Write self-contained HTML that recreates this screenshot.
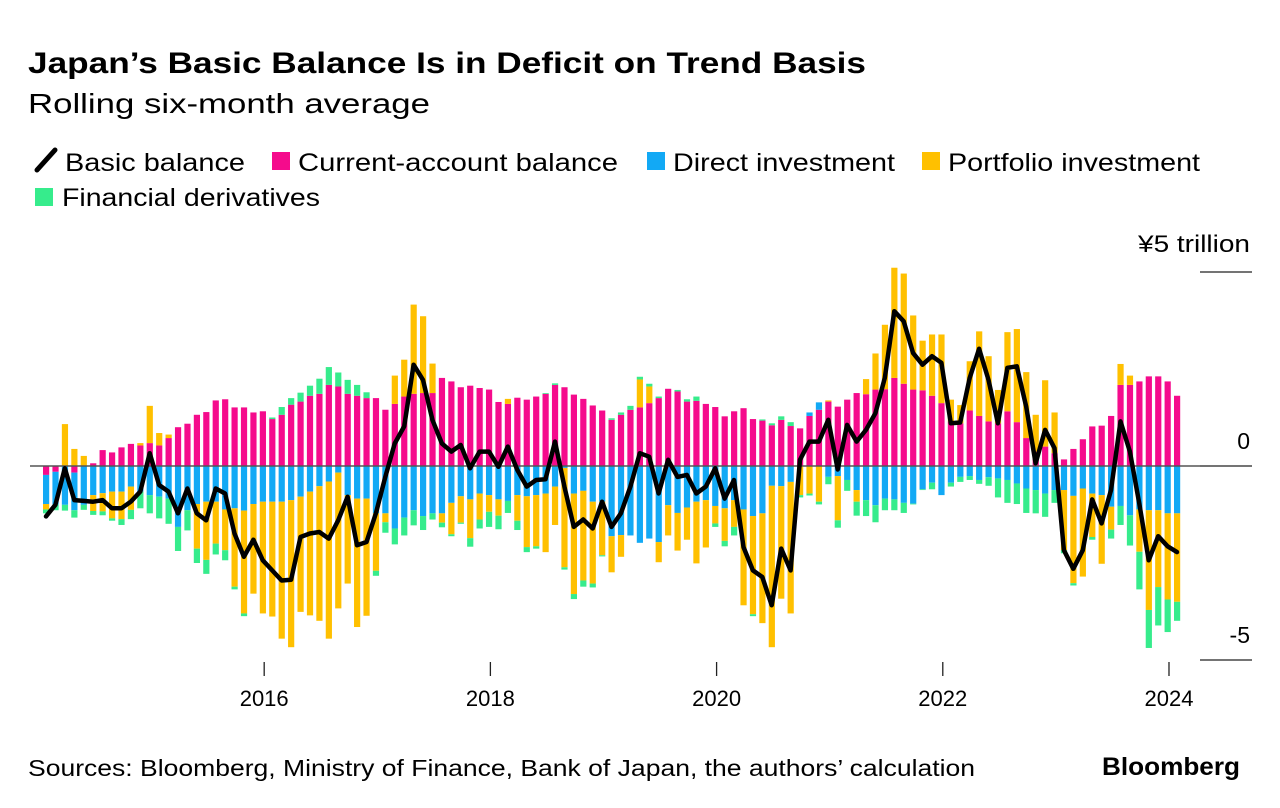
<!DOCTYPE html>
<html><head><meta charset="utf-8">
<style>
html,body{margin:0;padding:0;background:#fff;}
svg{display:block;font-family:"Liberation Sans",Arial,sans-serif;}
</style></head>
<body>
<svg id="chart" width="1280" height="808" viewBox="0 0 1280 808" xmlns="http://www.w3.org/2000/svg">
<text x="28" y="73" font-size="30" font-weight="bold" fill="#000" textLength="838" lengthAdjust="spacingAndGlyphs">Japan’s Basic Balance Is in Deficit on Trend Basis</text>
<text x="28" y="113" font-size="28" fill="#000" textLength="402" lengthAdjust="spacingAndGlyphs">Rolling six-month average</text>
<g>
<g><line x1="37" y1="170" x2="55" y2="150" stroke="#000" stroke-width="5" stroke-linecap="round"/><text x="65" y="171" font-size="25" textLength="180" lengthAdjust="spacingAndGlyphs">Basic balance</text></g>
<g><rect x="272" y="152" width="18" height="18" fill="#f50b8c"/><text x="298" y="171" font-size="25" textLength="320" lengthAdjust="spacingAndGlyphs">Current-account balance</text></g>
<g><rect x="647" y="152" width="18" height="18" fill="#12a9f5"/><text x="673" y="171" font-size="25" textLength="222" lengthAdjust="spacingAndGlyphs">Direct investment</text></g>
<g><rect x="922" y="152" width="18" height="18" fill="#ffc000"/><text x="948" y="171" font-size="25" textLength="252" lengthAdjust="spacingAndGlyphs">Portfolio investment</text></g>
<g><rect x="35" y="188" width="18" height="18" fill="#36ec8c"/><text x="62" y="206" font-size="25" textLength="258" lengthAdjust="spacingAndGlyphs">Financial derivatives</text></g>
</g>
<g id="plot"></g>
<text x="1250" y="252" font-size="24" text-anchor="end" textLength="112" lengthAdjust="spacingAndGlyphs">¥5 trillion</text>
<text x="28" y="776" font-size="23" textLength="947" lengthAdjust="spacingAndGlyphs">Sources: Bloomberg, Ministry of Finance, Bank of Japan, the authors’ calculation</text>
<text x="1240" y="775" font-size="25" font-weight="bold" text-anchor="end" textLength="138" lengthAdjust="spacingAndGlyphs">Bloomberg</text>
</svg>
<script>
const caValues=[-0.23,-0.15,0,-0.17,0,0.07,0.41,0.35,0.48,0.57,0.53,0.59,0.53,0.72,1.0,1.09,1.32,1.39,1.69,1.72,1.51,1.51,1.38,1.41,1.21,1.32,1.58,1.66,1.81,1.86,2.09,2.05,1.86,1.81,1.75,1.75,1.45,1.6,1.79,1.86,1.88,1.88,2.27,2.18,2.03,2.07,2.01,1.97,1.65,1.6,1.76,1.71,1.79,1.86,2.09,2.03,1.84,1.73,1.56,1.43,1.19,1.32,1.45,1.51,1.62,1.75,1.99,1.92,1.66,1.68,1.6,1.52,1.28,1.41,1.49,1.21,1.17,1.05,1.19,1.03,0.97,1.29,1.45,1.66,1.53,1.71,1.88,1.85,1.97,1.98,2.27,2.12,1.97,1.95,1.81,1.62,1.15,1.1,1.43,1.29,1.15,1.1,1.41,1.13,0.72,0.37,0.5,0.33,0.17,0.44,0.69,1.02,1.04,1.29,2.09,2.09,2.18,2.31,2.31,2.18,1.81];
const diValues=[-0.75,-0.84,-1.0,-0.97,-1.0,-0.75,-0.7,-0.66,-0.66,-0.53,-0.66,-0.75,-0.79,-0.84,-1.57,-1.14,-0.98,-0.92,-0.92,-1.12,-1.09,-1.15,-0.98,-0.92,-0.92,-0.92,-0.88,-0.79,-0.66,-0.52,-0.4,-0.17,-0.75,-0.84,-0.84,-1.22,-1.22,-1.61,-1.33,-1.14,-1.29,-1.22,-1.22,-0.95,-0.78,-0.86,-0.71,-0.75,-0.86,-0.9,-0.75,-0.78,-0.75,-0.71,-0.53,-0.05,-0.71,-0.64,-0.92,-0.92,-1.81,-1.78,-1.79,-1.98,-1.87,-1.96,-1.01,-1.21,-1.07,-0.92,-0.88,-1.03,-1.09,-0.88,-1.12,-1.29,-1.22,-0.51,-0.52,-0.41,0,0.09,0.19,-0.28,-0.26,-0.36,-0.62,-0.88,-1.01,-0.84,-0.86,-0.95,-0.97,-0.6,-0.43,-0.75,-0.43,-0.28,-0.26,-0.36,-0.29,-0.32,-0.36,-0.45,-0.58,-0.62,-0.71,-0.62,-0.62,-0.77,-0.58,-0.71,-0.75,-1.05,-1.03,-1.27,-1.12,-1.14,-1.14,-1.22,-1.22];
const piValues=[-0.14,0,1.08,0.44,0.26,-0.41,-0.47,-0.69,-0.71,-0.6,0.06,0.96,0.32,0.09,0,0,-1.15,-1.5,-1.08,-1.05,-2.02,-2.65,-2.31,-2.88,-2.96,-3.53,-3.79,-2.97,-3.19,-3.47,-4.05,-3.5,-2.28,-3.31,-3.02,-1.48,-0.23,0.73,0.95,2.3,1.98,0.76,-0.24,-0.81,-0.68,-1.0,-0.67,-0.43,-0.42,0.13,-0.66,-1.31,-1.32,-1.51,-0.99,-2.56,-2.59,-2.31,-2.11,-1.38,-0.93,-0.56,0,0.72,0.43,-0.52,-0.78,-0.97,-0.83,-1.59,-1.22,-0.45,-0.84,-0.69,-2.47,-2.53,-2.83,-4.16,-2.9,-3.39,-0.75,-0.71,-0.92,0.03,-1.14,0,-0.3,0.39,0.93,1.66,2.84,2.84,1.91,1.28,1.58,1.77,0.56,0.47,1.27,2.18,1.68,0.86,2.04,2.4,1.7,0.95,1.71,1.05,-1.55,-2.25,-2.27,-1.12,-1.77,-0.59,0.54,0.24,-1.09,-2.57,-1.98,-2.22,-2.28];
const fdValues=[-0.1,-0.15,-0.15,-0.19,-0.13,-0.1,-0.1,-0.06,-0.15,-0.24,-0.43,-0.47,-0.56,-0.65,-0.62,-0.52,-0.37,-0.36,-0.28,-0.26,-0.07,-0.07,0,0,0.04,0.2,0.17,0.23,0.26,0.39,0.46,0.36,0.36,0.28,0.15,-0.13,-0.27,-0.41,-0.46,-0.39,-0.36,-0.16,-0.12,-0.05,-0.03,-0.22,-0.23,-0.39,-0.35,-0.31,-0.24,-0.13,-0.06,0.02,0.04,-0.06,-0.13,-0.16,-0.1,-0.03,0.04,0.06,0.1,0.07,0.07,0.04,0,0.04,0.06,0.11,0,-0.09,-0.14,-0.22,0,-0.05,0.03,0.05,0.09,0.1,-0.06,-0.05,-0.07,-0.19,-0.19,-0.28,-0.36,-0.41,-0.44,-0.3,-0.28,-0.26,-0.02,-0.02,-0.17,0,-0.1,-0.13,-0.1,-0.1,-0.22,-0.49,-0.59,-0.53,-0.63,-0.6,-0.6,-0.33,-0.08,-0.06,0,-0.07,0,-0.23,-0.49,-0.78,-0.97,-0.98,-0.99,-0.84,-0.49];
const basicBalance=[-1.3,-1.0,-0.06,-0.88,-0.9,-0.92,-0.88,-1.09,-1.09,-0.92,-0.66,0.33,-0.49,-0.66,-1.22,-0.58,-1.22,-1.4,-0.58,-0.71,-1.74,-2.34,-1.9,-2.43,-2.69,-2.95,-2.93,-1.83,-1.74,-1.7,-1.87,-1.4,-0.79,-2.04,-1.96,-1.22,-0.28,0.58,1.02,2.61,2.22,1.19,0.58,0.37,0.54,-0.06,0.37,0.37,-0.02,0.5,-0.1,-0.53,-0.36,-0.34,0.63,-0.53,-1.57,-1.38,-1.61,-0.92,-1.57,-1.22,-0.53,0.33,0.24,-0.71,0.16,-0.28,-0.23,-0.71,-0.53,-0.06,-0.84,-0.36,-2.09,-2.69,-2.86,-3.59,-2.13,-2.69,0.16,0.63,0.63,1.19,-0.09,1.06,0.63,0.93,1.36,2.27,3.99,3.73,2.91,2.61,2.83,2.66,1.1,1.12,2.27,3.02,2.22,1.1,2.53,2.57,1.53,0.07,0.93,0.46,-2.17,-2.65,-2.17,-0.86,-1.48,-0.62,1.15,0.37,-0.97,-2.43,-1.81,-2.07,-2.22];
const yearTicks=[2016,2018,2020,2022,2024];
const yTickValues=[5,0,-5];
const yTickLabels=["","0","-5"];

const NS="http://www.w3.org/2000/svg";
const plot=document.getElementById('plot');
const step=9.425, x0=46;
function xScale(i){return x0+i*step;}
function yearX(y){return xScale((y-2014)*12-0.85);}
function yScale(v){return 466-v*38.8;}
function mk(tag,attrs){const e=document.createElementNS(NS,tag);for(const k in attrs)e.setAttribute(k,attrs[k]);plot.appendChild(e);return e;}

// y gridlines / ticks
yTickValues.forEach((v,k)=>{
  const l=mk('line',{x1:1200,x2:1252,y1:yScale(v),y2:yScale(v),stroke:'#222','stroke-width':1.3});
  
  
  if(yTickLabels[k]){
    const t=mk('text',{x:1250,y:yScale(v)-17,'font-size':23,'text-anchor':'end'});
    t.textContent=yTickLabels[k];
    
    
  }
});

const series=[[caValues,'#f50b8c','ca'],[diValues,'#12a9f5','di'],[piValues,'#ffc000','pi'],[fdValues,'#36ec8c','fd']];
for(let i=0;i<caValues.length;i++){
  let pos=0,neg=0;
  series.forEach(([arr,col,nm])=>{
    const v=arr[i]; if(!v) return;
    let a,b;
    if(v>0){a=pos;b=pos+v;pos=b;}else{a=neg;b=neg+v;neg=b;}
    const y1=yScale(Math.max(a,b)), y2=yScale(Math.min(a,b));
    const r=mk('rect',{x:xScale(i)-3,y:y1,width:6.2,height:Math.max(0.5,y2-y1),fill:col});
    
    
  });
}
// zero line
const z=mk('line',{x1:30,x2:1210,y1:yScale(0),y2:yScale(0),stroke:'#555','stroke-width':1.5});



// basic balance line
const pts=basicBalance.map((v,i)=>xScale(i).toFixed(1)+','+yScale(v).toFixed(1)).join(' ');
const pl=mk('polyline',{points:pts,fill:'none',stroke:'#000','stroke-width':4.5,'stroke-linejoin':'round','stroke-linecap':'round'});



// x axis
yearTicks.forEach(y=>{
  const x=yearX(y);
  const t=mk('line',{x1:x,x2:x,y1:662,y2:676,stroke:'#222','stroke-width':1.3});
  
  
  const l=mk('text',{x:x,y:706,'font-size':22,'text-anchor':'middle'});
  l.textContent=y;
  
  
});
</script>
</body></html>
